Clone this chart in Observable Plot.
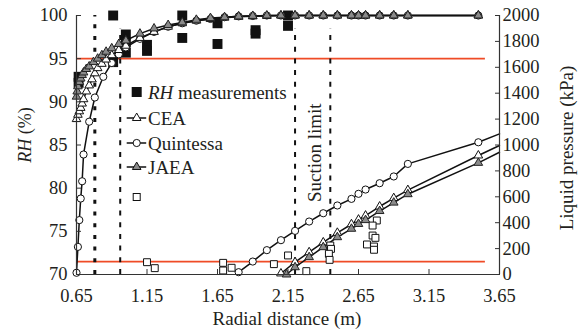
<!DOCTYPE html>
<html><head><meta charset="utf-8">
<script src="https://cdn.jsdelivr.net/npm/d3@7"></script>
<script src="https://cdn.jsdelivr.net/npm/@observablehq/plot@0.6"></script>
<style>
body{margin:0;background:#fff;}
#chart{width:584px;height:331px;}
</style></head><body><div id="chart"></div>
<script>
// ---- axis definitions ----
const rhTicks = [70, 75, 80, 85, 90, 95, 100];
const pTicks = [0, 200, 400, 600, 800, 1000, 1200, 1400, 1600, 1800, 2000];
const xTicks = [0.65, 1.15, 1.65, 2.15, 2.65, 3.15, 3.65];
const pMax = 2000;
const toRH = p => 70 + p * 30 / pMax;

// ---- RH model curves ----
const ceaRhX = [0.65,0.66,0.67,0.68,0.69,0.70,0.72,0.74,0.76,0.78,0.80,0.83,0.86,0.90,0.95,1.0,1.1,1.2,1.3,1.4,1.5,1.6,1.7,1.8,1.9,2.0,2.1,2.2,2.3,2.4,2.5,2.6,2.65,2.7,2.8,2.9,3.0,3.5];
const ceaRhY = [88.0,88.5,88.9,89.3,89.8,90.3,91.2,91.9,92.6,93.3,93.9,94.4,94.9,95.4,96.0,96.5,97.4,98.1,98.7,99.1,99.4,99.6,99.75,99.85,99.9,99.95,100,100,100,100,100,100,100,100,100,100,100,100];
const jaeaRhX = [0.65,0.655,0.66,0.67,0.68,0.69,0.70,0.72,0.74,0.77,0.80,0.83,0.86,0.90,0.95,1.0,1.1,1.2,1.3,1.4,1.5,1.6,1.7,1.8,1.9,2.0,2.1,2.2,2.3,2.4,2.5,2.6,2.65,2.7,2.8,2.9,3.0,3.5];
const jaeaRhY = [90.6,91.2,91.8,92.3,92.7,93.1,93.4,93.8,94.1,94.6,95.0,95.4,95.8,96.2,96.7,97.1,97.9,98.5,98.9,99.2,99.5,99.7,99.8,99.9,99.95,100,100,100,100,100,100,100,100,100,100,100,100,100];
const quinRhX = [0.65,0.66,0.67,0.68,0.69,0.70,0.74,0.78,0.84,0.90,0.95,1.0,1.1,1.2,1.3,1.4,1.5,1.6,1.7,1.8,1.9,2.0,2.1,2.2,2.3,2.4,2.5,2.6,2.65,2.7,2.8,2.9,3.0,3.5];
const quinRhY = [70.2,73.2,76.3,78.8,80.8,83.9,87.7,90.5,92.9,94.5,95.5,96.3,97.3,98.1,98.7,99.1,99.4,99.6,99.8,99.9,99.95,100,100,100,100,100,100,100,100,100,100,100,100,100];

// ---- liquid pressure model curves (kPa); last point (3.65) has no marker ----
const quinPX = [1.80,1.90,2.0,2.1,2.2,2.3,2.4,2.5,2.6,2.65,2.7,2.8,2.9,3.0,3.5,3.65];
const quinPY = [18,100,188,265,337,409,473,533,584,623,656,705,757,854,1021,1086];
const ceaPX = [2.10,2.2,2.3,2.4,2.5,2.6,2.65,2.7,2.8,2.9,3.0,3.5,3.65];
const ceaPY = [8,95,172,248,322,388,424,455,525,590,652,919,996];
const jaeaPX = [2.14,2.2,2.3,2.4,2.5,2.6,2.65,2.7,2.8,2.9,3.0,3.5,3.65];
const jaeaPY = [0,56,134,211,288,353,390,420,490,555,620,862,944];

// ---- measurements ----
const rhMeasX = [0.665,0.665,0.91,0.91,1.0,1.0,1.0,1.15,1.15,1.40,1.40,1.65,1.65,1.92,1.92,2.15,2.15];
const rhMeasY = [92.9,92.2,100,94.6,97.8,96.9,95.7,96.6,95.9,100,97.4,99.1,96.7,98.3,97.9,100,98.8];
const pMeasX = [1.15,1.205,1.69,1.69,1.75,2.05,2.15,2.28,2.45,2.455,2.44,2.445,2.78,2.75,2.75,2.77,2.71,2.76,2.76];
const pMeasY = [95,49,90,31,52,80,147,26,224,198,160,113,417,378,301,283,232,216,191];

// ---- reference lines ----
const limitRH = [95];
const limitP = [100];
const limitX = [0.65, 3.55];
const vLineX = [0.78, 0.96, 2.2, 2.45];
const vLineTop = [100, 98.5, 98.5, 98.5];
const vLineWidth = [3, 2, 2, 2];
const vLineDash = ["4 7.7", "5 6.7", "5 6.7", "5 6.7"];
const noteText = ["Suction limit"];
const noteX = [2.338];
const noteY = [84.1];

const zip = (xs, ys) => xs.map((x, i) => ({x, y: ys[i]}));
const ceaRH = zip(ceaRhX, ceaRhY), jaeaRH = zip(jaeaRhX, jaeaRhY), quinRH = zip(quinRhX, quinRhY);
const quinP = zip(quinPX, quinPY.map(toRH)), ceaP = zip(ceaPX, ceaPY.map(toRH)), jaeaP = zip(jaeaPX, jaeaPY.map(toRH));
const rhMeas = zip(rhMeasX, rhMeasY), pMeas = zip(pMeasX, pMeasY.map(toRH));
const vLines = vLineX.map((x, i) => ({x, top: vLineTop[i], w: vLineWidth[i], dash: vLineDash[i]}));
const hLines = [...limitRH, ...limitP.map(toRH)];
const marked = d => d.x <= 3.5;

const red = "#ef4b26";
const ink = "#231f20";
const lineW = 1.5;
const serif = "Liberation Serif";
const tickFs = 18.5, titleFs = 19;

const plot = Plot.plot({
  width: 584, height: 331,
  marginLeft: 76, marginRight: 85, marginTop: 15, marginBottom: 57,
  x: {domain: [0.65, 3.65]},
  y: {domain: [70, 100]},
  style: {fontFamily: serif, fontSize: tickFs + "px", color: ink, background: "#fff", overflow: "visible"},
  marks: [
    ...hLines.map(v => Plot.ruleY([v], {x1: limitX[0], x2: limitX[1], stroke: red, strokeWidth: 1.8})),
    ...vLines.map(d => Plot.ruleX([d], {x: "x", y1: 70, y2: "top", stroke: "#111", strokeWidth: d.w, strokeDasharray: d.dash})),
    Plot.text(noteText, {x: noteX, y: noteY, text: d => d, rotate: -90, fontSize: titleFs, fontFamily: serif, fill: ink}),
    Plot.dot(rhMeas, {x: "x", y: "y", symbol: "square", r: 5.6, fill: "#111", stroke: "none"}),
    Plot.line(quinRH, {x: "x", y: "y", stroke: "#111", strokeWidth: lineW}),
    Plot.line(ceaRH, {x: "x", y: "y", stroke: "#111", strokeWidth: lineW}),
    Plot.line(jaeaRH, {x: "x", y: "y", stroke: "#111", strokeWidth: lineW}),
    Plot.line(quinP, {x: "x", y: "y", stroke: "#111", strokeWidth: lineW}),
    Plot.line(ceaP, {x: "x", y: "y", stroke: "#111", strokeWidth: lineW}),
    Plot.line(jaeaP, {x: "x", y: "y", stroke: "#111", strokeWidth: lineW}),
    Plot.dot(quinRH, {x: "x", y: "y", symbol: "circle", r: 3.6, fill: "#fff", stroke: "#111", strokeWidth: 1}),
    Plot.dot(quinP.filter(marked), {x: "x", y: "y", symbol: "circle", r: 3.6, fill: "#fff", stroke: "#111", strokeWidth: 1}),
    Plot.dot(ceaRH, {x: "x", y: "y", symbol: "triangle", r: 3.2, fill: "#fff", stroke: "#111", strokeWidth: 1}),
    Plot.dot(ceaP.filter(marked), {x: "x", y: "y", symbol: "triangle", r: 3.2, fill: "#fff", stroke: "#111", strokeWidth: 1}),
    Plot.dot(jaeaRH, {x: "x", y: "y", symbol: "triangle", r: 3.2, fill: "#8a8a8a", stroke: "#222", strokeWidth: 1}),
    Plot.dot(jaeaP.filter(marked), {x: "x", y: "y", symbol: "triangle", r: 3.2, fill: "#8a8a8a", stroke: "#222", strokeWidth: 1}),
    Plot.dot(pMeas, {x: "x", y: "y", symbol: "square", r: 3.9, fill: "#fff", stroke: "#111", strokeWidth: 1}),
    Plot.ruleX([0.65, 3.65], {stroke: "#333", strokeWidth: 1.2}),
    Plot.ruleY([70], {stroke: "#333", strokeWidth: 1.2}),
    Plot.axisY(rhTicks, {anchor: "left", tickSize: -5, tickPadding: 14, label: null, fontSize: tickFs, fontFamily: serif, stroke: "#333"}),
    Plot.axisY(pTicks.map(toRH), {anchor: "right", tickSize: -5, tickPadding: 8, label: null, fontSize: tickFs, fontFamily: serif, stroke: "#333",
      tickFormat: v => String(Math.round((v - 70) * pMax / 30))}),
    Plot.axisX(xTicks, {anchor: "bottom", tickSize: -5, tickPadding: 19.5, label: null, fontSize: tickFs, fontFamily: serif, stroke: "#333",
      tickFormat: v => v.toFixed(2)})
  ]
});

document.getElementById("chart").appendChild(plot);

// ---- axis titles and legend ----
const svg = d3.select(plot);
const g = svg.append("g").attr("fill", ink).attr("font-family", serif).attr("font-size", titleFs).attr("text-anchor", "start");
const yl = g.append("text").attr("transform", "translate(31,135) rotate(-90)").attr("text-anchor", "middle").attr("font-size", 18);
yl.append("tspan").attr("font-style", "italic").text("RH");
yl.append("tspan").text(" (%)");
g.append("text").attr("transform", "translate(573,148) rotate(-90)").attr("text-anchor", "middle").text("Liquid pressure (kPa)");
g.append("text").attr("x", 287).attr("y", 325).attr("text-anchor", "middle").text("Radial distance (m)");

const legendItems = [
  {type: "filled", label: ["RH", " measurements"], y: 92},
  {type: "cea", label: ["", "CEA"], y: 118},
  {type: "quin", label: ["", "Quintessa"], y: 143},
  {type: "jaea", label: ["", "JAEA"], y: 167},
  {type: "open", label: ["", ""], y: 197}
];
const lx = 136.7;
const tri = d3.symbol(d3.symbolTriangle, 3.2 * 3.2 * Math.PI)();
for (const it of legendItems) {
  const lg = g.append("g");
  if (it.type === "filled") {
    lg.append("rect").attr("x", lx - 5).attr("y", it.y - 5).attr("width", 10).attr("height", 10).attr("fill", "#111");
  } else if (it.type === "open") {
    lg.append("rect").attr("x", lx - 3.5).attr("y", it.y - 3.5).attr("width", 7).attr("height", 7).attr("fill", "#fff").attr("stroke", "#111");
  } else {
    lg.append("line").attr("x1", lx - 10).attr("x2", lx + 9.5).attr("y1", it.y).attr("y2", it.y).attr("stroke", "#111").attr("stroke-width", lineW);
    if (it.type === "quin") lg.append("circle").attr("cx", lx).attr("cy", it.y).attr("r", 3.6).attr("fill", "#fff").attr("stroke", "#111");
    else lg.append("path").attr("d", tri).attr("transform", `translate(${lx},${it.y})`).attr("fill", it.type === "jaea" ? "#8a8a8a" : "#fff").attr("stroke", "#111");
  }
  if (it.label[0] || it.label[1]) {
    const t = lg.append("text").attr("x", 148).attr("y", it.y + 6.5).attr("text-anchor", "start");
    if (it.label[0]) t.append("tspan").attr("font-style", "italic").text(it.label[0]);
    t.append("tspan").text(it.label[1]);
  }
}
</script></body></html>
